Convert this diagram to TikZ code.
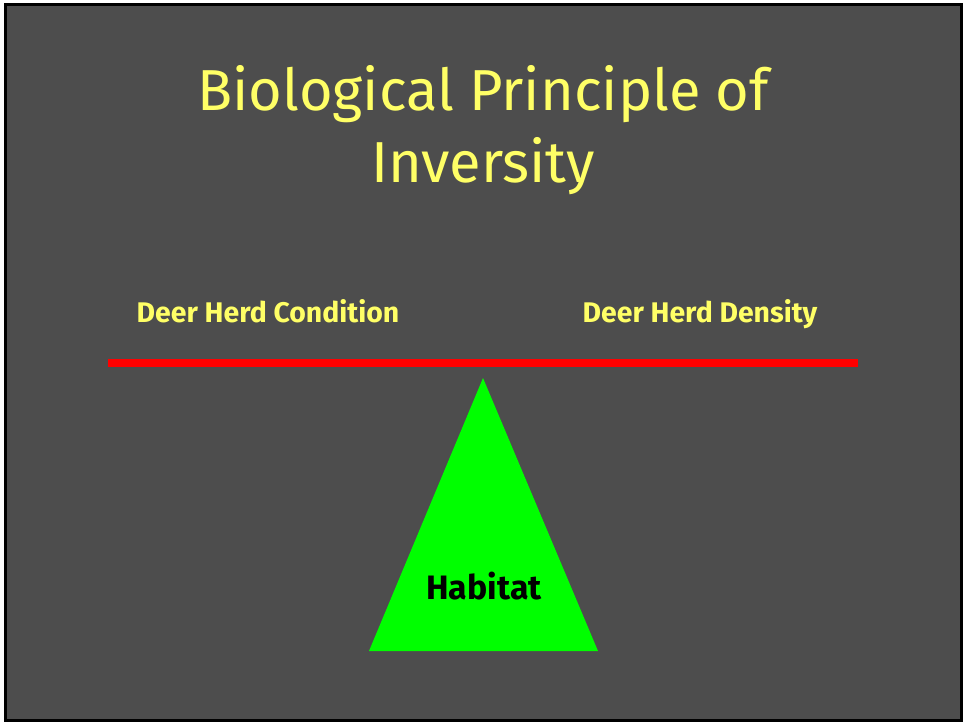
\documentclass[tikz,border=0pt]{standalone}
\usepackage{fontspec}
\setmainfont{Fira Sans}
\definecolor{slide}{HTML}{4D4D4D}
\definecolor{chalk}{HTML}{FFFF66}
\definecolor{leaf}{HTML}{00FF00}

\begin{document}
\begin{tikzpicture}[x=1bp, y=-1bp, thick]
  \tikzset{
    label/.style={text=chalk, font=\bfseries\fontsize{28.5}{32}\selectfont, inner sep=0pt, anchor=base},
    beam/.style={red, line width=8bp}
  }
  \useasboundingbox (0,0) rectangle (964,723);
  % slide background with its black frame
  \draw[line width=3bp, fill=slide] (5.5,4.5) rectangle (961.5,720);

  \node[text=chalk, align=center, inner sep=0pt,
        font=\fontsize{58}{72}\selectfont] (title) at (483,130)
    {Biological Principle of\\Inversity};

  \node[label] (cond) at (268,322) {Deer Herd Condition};
  \node[label] (dens) at (700,322) {Deer Herd Density};

  % balance beam
  \coordinate (L) at (108,363);
  \coordinate (R) at (858,363);
  \draw[beam] (L) -- (R);

  % fulcrum
  \coordinate (T) at (483,378);
  \coordinate (P) at (369,651);
  \coordinate (Q) at (598,651);
  \fill[leaf] (T) -- (P) -- (Q) -- cycle;

  \node[font=\bfseries\fontsize{34}{38}\selectfont, inner sep=0pt, anchor=base] (hab) at (484,599) {Habitat};
\end{tikzpicture}
\end{document}
